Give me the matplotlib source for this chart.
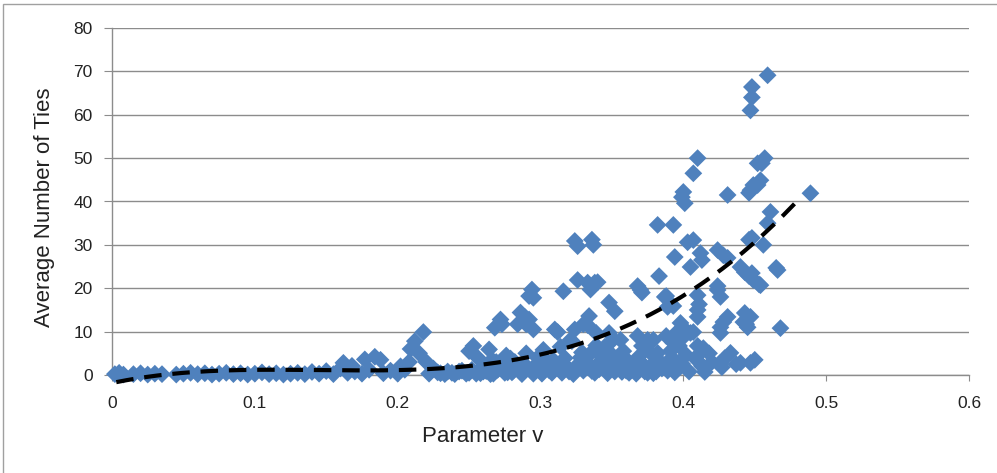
import numpy as np
import matplotlib
matplotlib.use("Agg")
import matplotlib.pyplot as plt
from matplotlib.patches import Rectangle

# ---- data (Parameter v, Average Number of Ties) ----
x_low = [0.002, 0.005, 0.008, 0.015, 0.02, 0.025, 0.03, 0.035, 0.045, 0.05, 0.055, 0.06,
         0.065, 0.07, 0.075, 0.08, 0.085, 0.09, 0.095, 0.1, 0.105, 0.11, 0.115, 0.12,
         0.125, 0.13, 0.135, 0.14, 0.145, 0.15, 0.155, 0.16, 0.162, 0.165, 0.168, 0.17,
         0.175, 0.177, 0.18, 0.184, 0.188, 0.19, 0.195, 0.2, 0.202, 0.205, 0.208, 0.209,
         0.212, 0.215, 0.218, 0.22, 0.225, 0.23, 0.235, 0.24, 0.245, 0.25]
y_low = [0.2, 0.5, 0.1, 0.2, 0.4, 0.1, 0.3, 0.2, 0.1, 0.3, 0.5, 0.2,
         0.4, 0.1, 0.3, 0.5, 0.2, 0.4, 0.1, 0.3, 0.6, 0.2, 0.4, 0.1,
         0.3, 0.5, 0.2, 0.7, 0.3, 0.9, 0.2, 1.5, 2.8, 0.5, 2.1, 0.8,
         0.3, 3.6, 1.2, 4.2, 3.5, 0.4, 1.0, 0.3, 2.0, 1.2, 3.0, 6.0,
         7.8, 5.0, 9.9, 3.0, 1.5, 0.4, 0.8, 0.2, 1.0, 0.5]

x_mid = [0.25, 0.253, 0.256, 0.26, 0.264, 0.266, 0.268, 0.272, 0.273, 0.276, 0.278, 0.28,
         0.282, 0.284, 0.286, 0.289, 0.29, 0.292, 0.292, 0.294, 0.295, 0.295, 0.29, 0.298,
         0.3, 0.302, 0.305, 0.308, 0.31, 0.312, 0.314, 0.316, 0.318, 0.32, 0.255, 0.26,
         0.265, 0.27, 0.275, 0.285, 0.295, 0.305]
y_mid = [5.5, 6.7, 4.0, 2.0, 5.9, 3.5, 10.9, 12.8, 11.7, 4.5, 2.5, 0.6,
         3.0, 11.7, 14.4, 13.4, 11.7, 12.8, 18.2, 19.7, 17.8, 10.5, 5.0, 4.0,
         1.0, 5.8, 3.0, 0.5, 10.5, 9.9, 6.5, 19.3, 2.0, 0.8, 0.3, 0.8,
         0.2, 1.2, 0.5, 1.5, 0.3, 1.8]

x_c = [0.322, 0.324, 0.324, 0.326, 0.326, 0.33, 0.333, 0.334, 0.335, 0.336, 0.338, 0.337,
       0.339, 0.34, 0.348, 0.348, 0.352, 0.351, 0.356, 0.333, 0.321, 0.325, 0.328, 0.33,
       0.332, 0.335, 0.338, 0.34, 0.342, 0.345, 0.35, 0.352, 0.355, 0.358, 0.36, 0.345]
y_c = [7.8, 10.5, 30.9, 29.7, 21.9, 11.7, 21.3, 13.6, 19.7, 31.2, 21.3, 30.0,
       9.7, 21.4, 9.7, 16.7, 14.7, 8.2, 8.1, 11.5, 8.1, 2.0, 4.0, 1.0,
       3.0, 5.0, 0.5, 2.5, 4.5, 1.5, 3.5, 0.8, 2.2, 5.5, 1.0, 6.5]

x_d = [0.362, 0.365, 0.368, 0.368, 0.37, 0.371, 0.371, 0.373, 0.375, 0.377, 0.379, 0.38,
       0.382, 0.383, 0.382, 0.387, 0.388, 0.389, 0.388, 0.39, 0.392, 0.393, 0.393, 0.393,
       0.394, 0.395, 0.397, 0.398, 0.398, 0.4, 0.401, 0.399, 0.385, 0.375, 0.395]
y_d = [0.5, 2.0, 9.0, 20.5, 19.6, 19.0, 6.7, 0.8, 8.1, 5.1, 8.1, 3.0,
       5.1, 22.8, 34.6, 18.0, 18.2, 15.7, 9.0, 3.0, 4.0, 34.6, 15.9, 7.4,
       27.2, 9.7, 6.7, 12.0, 8.1, 42.2, 39.6, 41.0, 1.5, 0.5, 2.0]

x_e = [0.403, 0.407, 0.405, 0.403, 0.405, 0.407, 0.41, 0.407, 0.41, 0.41, 0.41, 0.41,
       0.411, 0.412, 0.413, 0.413, 0.414, 0.414, 0.411, 0.424, 0.424, 0.426, 0.424, 0.428,
       0.431, 0.428, 0.426, 0.426, 0.427, 0.426, 0.429, 0.431, 0.431, 0.433, 0.42, 0.418]
y_e = [30.6, 31.1, 24.9, 9.9, 9.7, 46.5, 50.0, 9.9, 18.4, 15.0, 13.4, 6.7,
       4.8, 28.1, 26.5, 2.1, 6.2, 1.8, 16.3, 28.8, 19.6, 18.0, 20.5, 27.6,
       27.0, 12.2, 11.0, 9.7, 1.8, 2.8, 3.9, 13.4, 41.5, 5.1, 3.0, 5.0]

x_f = [0.437, 0.44, 0.44, 0.442, 0.443, 0.443, 0.444, 0.445, 0.446, 0.446, 0.447, 0.447,
       0.447, 0.448, 0.448, 0.448, 0.448, 0.449, 0.449, 0.45, 0.452, 0.452, 0.453, 0.454,
       0.455, 0.456, 0.457, 0.459, 0.459, 0.461, 0.465, 0.466, 0.468, 0.489, 0.446, 0.454,
       0.447]
y_f = [2.5, 24.9, 2.8, 12.2, 14.3, 23.7, 11.7, 11.0, 31.2, 22.8, 42.6, 2.8,
       61.0, 64.0, 66.4, 23.5, 31.6, 21.9, 43.8, 3.5, 43.8, 48.8, 20.9, 44.9,
       48.8, 30.0, 50.0, 35.0, 69.1, 37.6, 24.7, 24.2, 10.8, 41.9, 42.0, 20.7,
       13.4]

# dense band of near-zero values (0.22 - 0.42)
x_band = [0.222, 0.228, 0.233, 0.238, 0.243, 0.248, 0.252, 0.258, 0.262, 0.267, 0.271, 0.277,
          0.281, 0.287, 0.291, 0.297, 0.301, 0.306, 0.311, 0.315, 0.319, 0.323, 0.327, 0.331,
          0.336, 0.341, 0.344, 0.347, 0.351, 0.354, 0.357, 0.361, 0.364, 0.367, 0.372, 0.376,
          0.379, 0.384, 0.389, 0.394, 0.399, 0.404, 0.409, 0.415, 0.269, 0.279, 0.288, 0.299,
          0.309, 0.317, 0.329, 0.339, 0.349, 0.359, 0.369, 0.381, 0.391, 0.402]
y_band = [0.3, 0.6, 0.2, 0.5, 0.8, 0.3, 1.2, 0.4, 0.9, 0.3, 2.2, 0.6,
          1.0, 0.2, 1.6, 2.4, 0.3, 1.1, 2.6, 0.5, 1.4, 0.2, 1.8, 3.2,
          0.9, 1.3, 2.8, 0.4, 1.9, 4.0, 0.7, 3.3, 1.2, 0.3, 2.4, 1.1,
          0.4, 3.0, 1.0, 0.6, 2.6, 0.8, 3.6, 0.7, 3.0, 3.8, 2.7, 2.9,
          3.4, 3.9, 5.2, 6.8, 5.0, 3.0, 4.3, 0.8, 5.5, 4.6]

# trendline points
trend_x = [0.003, 0.023, 0.054, 0.077, 0.121, 0.166, 0.21, 0.241, 0.264, 0.29, 0.308,
           0.33, 0.348, 0.366, 0.388, 0.406, 0.424, 0.442, 0.46, 0.475, 0.48]
trend_y = [-1.8, -0.2, 0.5, 0.9, 1.2, 1.2, 1.2, 1.7, 2.8, 4.0, 5.1,
           7.4, 9.7, 12.4, 15.9, 19.7, 23.6, 28.2, 33.5, 38.9, 40.0]

x_ticks = [0, 0.1, 0.2, 0.3, 0.4, 0.5, 0.6]
x_tick_labels = ["0", "0.1", "0.2", "0.3", "0.4", "0.5", "0.6"]
y_ticks = [0, 10, 20, 30, 40, 50, 60, 70, 80]

xs = x_low + x_mid + x_c + x_d + x_e + x_f + x_band
ys = y_low + y_mid + y_c + y_d + y_e + y_f + y_band

plt.rcParams['font.family'] = ['Liberation Sans', 'DejaVu Sans']

fig = plt.figure(figsize=(9.97, 4.73), dpi=100)
fig.patch.set_facecolor('white')
fig.patches.append(Rectangle((3 / 997, -0.05), 1.1, 1 - 4 / 473 + 0.05,
                             transform=fig.transFigure, fill=False,
                             edgecolor='#a0a0a0', linewidth=1.0))

ax = fig.add_axes([112 / 997, (473 - 375) / 473, (969 - 112) / 997, (375 - 28) / 473])

ax.scatter(xs, ys, marker='D', s=82, color='#4F81BD', edgecolors='none', zorder=3,
           clip_on=False)

coef = np.polyfit(trend_x, trend_y, 4)
tx = np.linspace(trend_x[0], trend_x[-1], 200)
ty = np.polyval(coef, tx)
ax.plot(tx, ty, color='black', linewidth=3.0, dashes=(4.2, 2.6), zorder=4,
        dash_capstyle='butt', clip_on=False)

ax.set_xlim(0, 0.6)
ax.set_ylim(0, 80)
ax.set_xticks(x_ticks)
ax.set_xticklabels(x_tick_labels)
ax.set_yticks(y_ticks)
ax.grid(axis='y', color='#8c8c8c', linewidth=1.0)
ax.set_axisbelow(True)
for s in ['top', 'right']:
    ax.spines[s].set_visible(False)
for s in ['left', 'bottom']:
    ax.spines[s].set_color('#8c8c8c')
    ax.spines[s].set_linewidth(1.0)
ax.tick_params(axis='y', direction='out', length=5.8, color='#8c8c8c',
               labelsize=12.5, labelcolor='#222222', pad=8)
ax.tick_params(axis='x', direction='out', length=4.3, color='#8c8c8c',
               labelsize=12.5, labelcolor='#222222', pad=11)

ax.set_xlabel("Parameter v", fontsize=16, color='#222222')
ax.set_ylabel("Average Number of Ties", fontsize=16, color='#222222')
ax.xaxis.set_label_coords(0.432, -0.146)
ax.yaxis.set_label_coords(-0.066, 0.483)

fig.savefig("out.png", dpi=100)
